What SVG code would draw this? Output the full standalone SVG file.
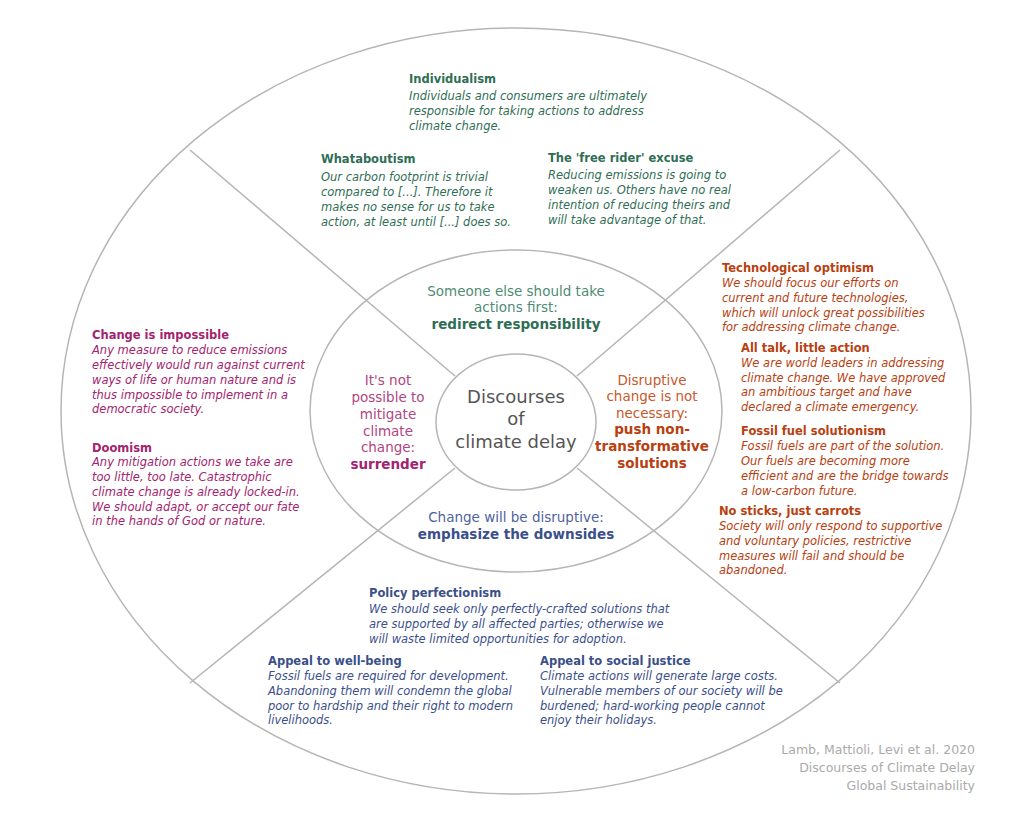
<svg xmlns="http://www.w3.org/2000/svg" width="1024" height="813" viewBox="0 0 1024 813">
<style>
text{font-family:"DejaVu Sans",Verdana,sans-serif;font-size:11.5px}
.t{font-weight:bold}
.d{font-style:italic}
.g{fill:#2f6e55}.gl{fill:#4f8c74}
.m{fill:#a3236e}.ml{fill:#b2457f}
.o{fill:#b8400f}.ol{fill:#c8582c}
.b{fill:#3b4f8a}.bl{fill:#4f63a0}
.c{text-anchor:middle;font-size:13.5px}
.line{stroke:#b5b5b5;stroke-width:1.5;fill:none}
</style>
<rect width="1024" height="813" fill="#fff"/>
<g id="connectors">
<ellipse class="line" cx="516" cy="411" rx="455" ry="383"/>
<ellipse class="line" cx="516" cy="411" rx="206" ry="161"/>
<line class="line" x1="190" y1="150" x2="455" y2="376"/>
<line class="line" x1="840" y1="150" x2="577" y2="376"/>
<line class="line" x1="190" y1="683" x2="455" y2="468"/>
<line class="line" x1="840" y1="683" x2="577" y2="468"/>
</g>
<g id="center">
<ellipse cx="516" cy="422" rx="80" ry="68" fill="#fff" stroke="#b5b5b5" stroke-width="1.5"/>
<text x="516" y="403" text-anchor="middle" style="font-size:18px" fill="#555">Discourses</text>
<text x="516" y="425" text-anchor="middle" style="font-size:18px" fill="#555">of</text>
<text x="516" y="448" text-anchor="middle" style="font-size:18px" fill="#555">climate delay</text>
</g>
<g id="redirect">
<text class="c gl" x="516" y="296">Someone else should take</text>
<text class="c gl" x="516" y="312">actions first:</text>
<text class="c g t" x="516" y="329">redirect responsibility</text>
</g>
<g id="surrender">
<text class="c ml" x="388" y="385">It's not</text>
<text class="c ml" x="388" y="402">possible to</text>
<text class="c ml" x="388" y="419">mitigate</text>
<text class="c ml" x="388" y="436">climate</text>
<text class="c ml" x="388" y="452">change:</text>
<text class="c m t" x="388" y="469">surrender</text>
</g>
<g id="push">
<text class="c ol" x="652" y="385">Disruptive</text>
<text class="c ol" x="652" y="401">change is not</text>
<text class="c ol" x="652" y="418">necessary:</text>
<text class="c o t" x="652" y="434">push non-</text>
<text class="c o t" x="652" y="451">transformative</text>
<text class="c o t" x="652" y="468">solutions</text>
</g>
<g id="downsides">
<text class="c bl" x="516" y="522">Change will be disruptive:</text>
<text class="c b t" x="516" y="539">emphasize the downsides</text>
</g>
<g id="individualism" class="g">
<text class="t" x="409" y="83">Individualism</text>
<text class="d" x="409" y="100">Individuals and consumers are ultimately</text>
<text class="d" x="409" y="115">responsible for taking actions to address</text>
<text class="d" x="409" y="130">climate change.</text>
</g>
<g id="whataboutism" class="g">
<text class="t" x="321" y="163">Whataboutism</text>
<text class="d" x="321" y="181">Our carbon footprint is trivial</text>
<text class="d" x="321" y="196">compared to [...]. Therefore it</text>
<text class="d" x="321" y="211">makes no sense for us to take</text>
<text class="d" x="321" y="226">action, at least until [...] does so.</text>
</g>
<g id="freerider" class="g">
<text class="t" x="548" y="162">The 'free rider' excuse</text>
<text class="d" x="548" y="179">Reducing emissions is going to</text>
<text class="d" x="548" y="194">weaken us. Others have no real</text>
<text class="d" x="548" y="209">intention of reducing theirs and</text>
<text class="d" x="548" y="224">will take advantage of that.</text>
</g>
<g id="impossible" class="m">
<text class="t" x="92" y="339">Change is impossible</text>
<text class="d" x="92" y="354">Any measure to reduce emissions</text>
<text class="d" x="92" y="369">effectively would run against current</text>
<text class="d" x="92" y="384">ways of life or human nature and is</text>
<text class="d" x="92" y="399">thus impossible to implement in a</text>
<text class="d" x="92" y="413">democratic society.</text>
</g>
<g id="doomism" class="m">
<text class="t" x="92" y="452">Doomism</text>
<text class="d" x="92" y="466">Any mitigation actions we take are</text>
<text class="d" x="92" y="481">too little, too late. Catastrophic</text>
<text class="d" x="92" y="496">climate change is already locked-in.</text>
<text class="d" x="92" y="511">We should adapt, or accept our fate</text>
<text class="d" x="92" y="525">in the hands of God or nature.</text>
</g>
<g id="techoptimism" class="o">
<text class="t" x="722" y="272">Technological optimism</text>
<text class="d" x="722" y="287">We should focus our efforts on</text>
<text class="d" x="722" y="302">current and future technologies,</text>
<text class="d" x="722" y="317">which will unlock great possibilities</text>
<text class="d" x="722" y="331">for addressing climate change.</text>
</g>
<g id="alltalk" class="o">
<text class="t" x="741" y="352">All talk, little action</text>
<text class="d" x="741" y="367">We are world leaders in addressing</text>
<text class="d" x="741" y="382">climate change. We have approved</text>
<text class="d" x="741" y="396">an ambitious target and have</text>
<text class="d" x="741" y="411">declared a climate emergency.</text>
</g>
<g id="fossil" class="o">
<text class="t" x="741" y="435">Fossil fuel solutionism</text>
<text class="d" x="741" y="450">Fossil fuels are part of the solution.</text>
<text class="d" x="741" y="465">Our fuels are becoming more</text>
<text class="d" x="741" y="480">efficient and are the bridge towards</text>
<text class="d" x="741" y="495">a low-carbon future.</text>
</g>
<g id="nosticks" class="o">
<text class="t" x="719" y="515">No sticks, just carrots</text>
<text class="d" x="719" y="530">Society will only respond to supportive</text>
<text class="d" x="719" y="545">and voluntary policies, restrictive</text>
<text class="d" x="719" y="560">measures will fail and should be</text>
<text class="d" x="719" y="574">abandoned.</text>
</g>
<g id="perfectionism" class="b">
<text class="t" x="369" y="597">Policy perfectionism</text>
<text class="d" x="369" y="613">We should seek only perfectly-crafted solutions that</text>
<text class="d" x="369" y="628">are supported by all affected parties; otherwise we</text>
<text class="d" x="369" y="643">will waste limited opportunities for adoption.</text>
</g>
<g id="wellbeing" class="b">
<text class="t" x="268" y="665">Appeal to well-being</text>
<text class="d" x="268" y="680">Fossil fuels are required for development.</text>
<text class="d" x="268" y="695">Abandoning them will condemn the global</text>
<text class="d" x="268" y="710">poor to hardship and their right to modern</text>
<text class="d" x="268" y="724">livelihoods.</text>
</g>
<g id="justice" class="b">
<text class="t" x="540" y="665">Appeal to social justice</text>
<text class="d" x="540" y="680">Climate actions will generate large costs.</text>
<text class="d" x="540" y="695">Vulnerable members of our society will be</text>
<text class="d" x="540" y="710">burdened; hard-working people cannot</text>
<text class="d" x="540" y="724">enjoy their holidays.</text>
</g>
<g id="citation" fill="#aaaaaa" text-anchor="end">
<text x="975" y="754" style="font-size:12.5px">Lamb, Mattioli, Levi et al. 2020</text>
<text x="975" y="772" style="font-size:12.5px">Discourses of Climate Delay</text>
<text x="975" y="790" style="font-size:12.5px">Global Sustainability</text>
</g>
</svg>
